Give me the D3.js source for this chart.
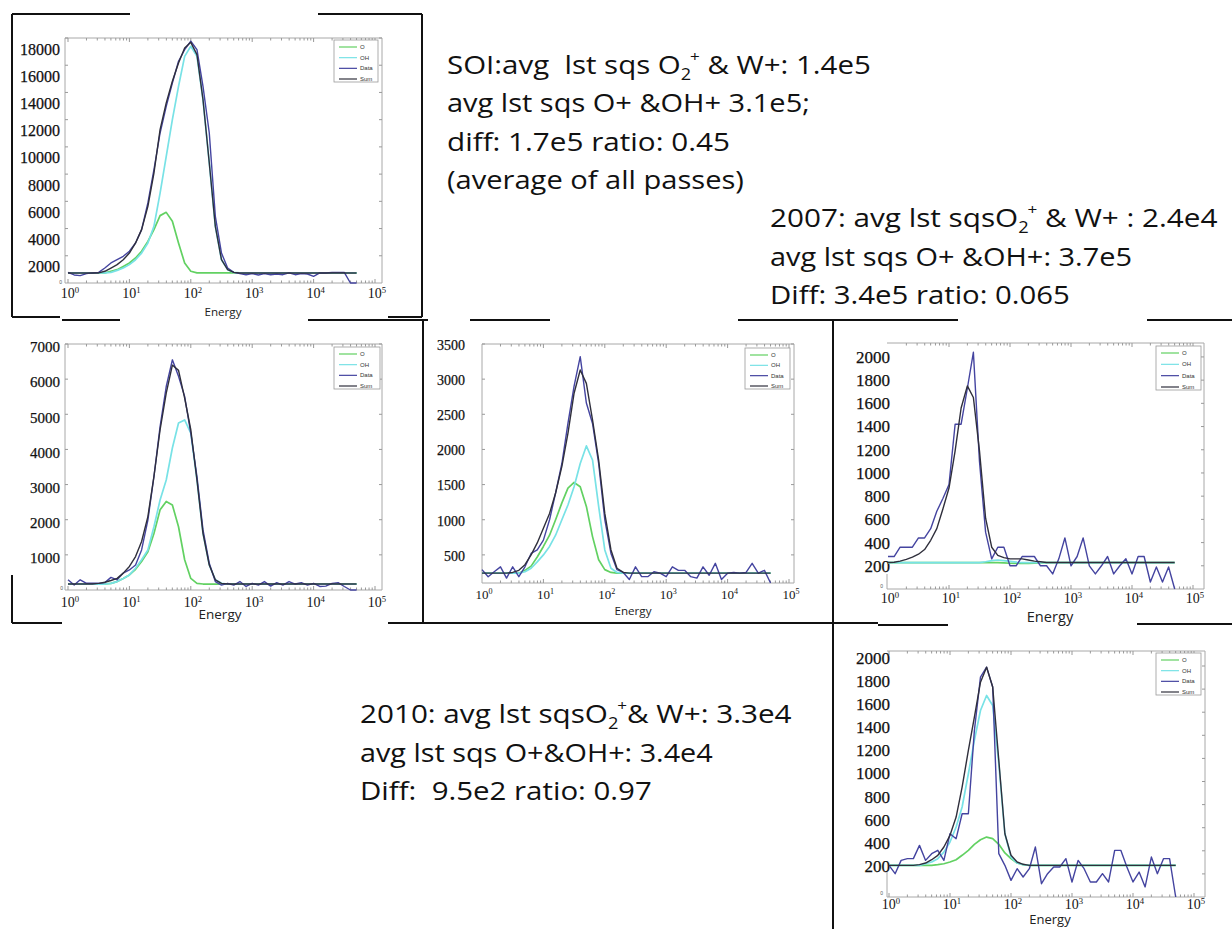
<!DOCTYPE html>
<html>
<head>
<meta charset="utf-8">
<script src="https://cdn.jsdelivr.net/npm/d3@7"></script>
<style>
  body { margin: 0; background: #fff; }
  svg { display: block; }
  text { white-space: pre; }
</style>
</head>
<body>
<svg id="chart" width="1232" height="929"></svg>
<script>
// energy bins shared by every panel (eV, 10 per decade)
const energy = [1, 1.26, 1.58, 2, 2.51, 3.16, 3.98, 5.01, 6.31, 7.94,
  10, 12.6, 15.8, 20, 25.1, 31.6, 39.8, 50.1, 63.1, 79.4,
  100, 126, 158, 200, 251, 316, 398, 501, 631, 794,
  1000, 1260, 1580, 2000, 2510, 3160, 3980, 5010, 6310, 7940,
  10000, 12600, 15800, 20000, 25100, 31600, 39800, 50100];

const seriesNames = ["O", "OH", "Data", "Sum"];
const xExponents = [0, 1, 2, 3, 4, 5];

// SOI (average of all passes)
const soiO = [740, 740, 740, 740, 740, 740, 740, 860, 980, 1220, 1470, 1840, 2330, 3060, 3920, 4950, 5190, 4530, 2940, 1470,
  860, 740, 740, 740, 740, 740, 740, 740, 740, 740, 740, 740, 740, 740, 740, 740, 740, 740, 740, 740,
  740, 740, 740, 740, 740, 740, 740, 740];
const soiOH = [740, 740, 740, 740, 740, 740, 740, 780, 930, 1100, 1350, 1710, 2200, 2940, 4160, 6610, 9310, 12000, 14450, 16650,
  17390, 16650, 13470, 8820, 4160, 1710, 980, 780, 740, 740, 740, 740, 740, 740, 740, 740, 740, 740, 740, 740,
  740, 740, 740, 740, 740, 740, 740, 740];
const soiData = [780, 590, 540, 690, 740, 780, 1100, 1470, 1710, 1960, 2330, 2940, 3920, 5880, 8330, 11020, 12980, 14690, 16290, 17140,
  17760, 17140, 14450, 11020, 4900, 2200, 1100, 780, 690, 610, 690, 590, 690, 610, 660, 610, 740, 610, 690, 660,
  490, 740, 740, 780, 780, 780, 0, 0];
const soiSum = [740, 740, 740, 740, 740, 740, 860, 1100, 1350, 1710, 2200, 2940, 3920, 5630, 8080, 11270, 13230, 14820, 16160, 17270,
  17680, 16780, 13470, 8820, 4160, 1710, 980, 780, 740, 740, 740, 740, 740, 740, 740, 740, 740, 740, 740, 740,
  740, 740, 740, 740, 740, 740, 740, 740];
const soiTicks = [2000, 4000, 6000, 8000, 10000, 12000, 14000, 16000, 18000];

// middle-left pass
const passAO = [170, 170, 170, 170, 170, 170, 170, 190, 240, 330, 430, 590, 810, 1090, 1610, 2280, 2520, 2420, 1800, 860,
  330, 190, 170, 170, 170, 170, 170, 170, 170, 170, 170, 170, 170, 170, 170, 170, 170, 170, 170, 170,
  170, 170, 170, 170, 170, 170, 170, 170];
const passAOH = [170, 170, 170, 170, 170, 170, 170, 190, 240, 330, 430, 620, 860, 1140, 1800, 2560, 3130, 4040, 4750, 4840,
  4460, 3130, 1610, 710, 290, 190, 170, 170, 170, 170, 170, 170, 170, 170, 170, 170, 170, 170, 170, 170,
  170, 170, 170, 170, 170, 170, 170, 170];
const passAData = [290, 140, 290, 190, 190, 190, 210, 360, 290, 480, 570, 710, 1140, 1990, 3230, 4650, 5790, 6550, 6080, 5510,
  4460, 3230, 1710, 760, 240, 140, 190, 140, 240, 100, 190, 140, 240, 110, 210, 140, 240, 170, 210, 140,
  190, 100, 110, 190, 210, 100, 0, 0];
const passASum = [170, 170, 170, 170, 170, 190, 220, 270, 330, 480, 670, 950, 1380, 2090, 3230, 4560, 5600, 6400, 6250, 5460,
  4560, 3130, 1610, 710, 290, 190, 170, 170, 170, 170, 170, 170, 170, 170, 170, 170, 170, 170, 170, 170,
  170, 170, 170, 170, 170, 170, 170, 170];
const passATicks = [1000, 2000, 3000, 4000, 5000, 6000, 7000];

// middle pass
const passBO = [240, 240, 240, 240, 240, 240, 240, 280, 340, 470, 620, 780, 1000, 1240, 1450, 1530, 1470, 1190, 760, 430,
  290, 250, 240, 240, 240, 240, 240, 240, 240, 240, 240, 240, 240, 240, 240, 240, 240, 240, 240, 240,
  240, 240, 240, 240, 240, 240, 240, 240];
const passBOH = [240, 240, 240, 240, 240, 240, 240, 260, 310, 400, 500, 620, 780, 1000, 1210, 1470, 1800, 2050, 1850, 1190,
  570, 310, 250, 240, 240, 240, 240, 240, 240, 240, 240, 240, 240, 240, 240, 240, 240, 240, 240, 240,
  240, 240, 240, 240, 240, 240, 240, 240];
const passBData = [290, 190, 260, 330, 170, 330, 190, 330, 520, 570, 710, 1000, 1380, 1800, 2370, 2900, 3320, 2660, 2370, 1800,
  1000, 520, 290, 250, 150, 330, 190, 190, 260, 240, 190, 330, 280, 280, 190, 170, 330, 210, 380, 150,
  240, 250, 240, 250, 380, 240, 280, 100];
const passBSum = [240, 240, 240, 240, 240, 250, 280, 360, 500, 670, 880, 1090, 1380, 1760, 2230, 2800, 3130, 2940, 2420, 1850,
  1090, 570, 310, 250, 240, 240, 240, 240, 240, 240, 240, 240, 240, 240, 240, 240, 240, 240, 240, 240,
  240, 240, 240, 240, 240, 240, 240, 240];
const passBTicks = [500, 1000, 1500, 2000, 2500, 3000, 3500];

// 2007
const y2007O = [228, 228, 228, 228, 228, 228, 228, 228, 228, 228, 228, 228, 228, 228, 228, 228, 228, 228, 228, 225,
  222, 220, 220, 220, 222, 225, 228, 228, 228, 228, 228, 228, 228, 228, 228, 228, 228, 228, 228, 228,
  228, 228, 228, 228, 228, 228, 228, 228];
const y2007OH = [228, 228, 228, 228, 228, 228, 228, 228, 228, 228, 228, 228, 228, 228, 228, 228, 235, 245, 250, 245,
  238, 232, 228, 228, 228, 228, 228, 228, 228, 228, 228, 228, 228, 228, 228, 228, 228, 228, 228, 228,
  228, 228, 228, 228, 228, 228, 228, 228];
const y2007Data = [280, 280, 360, 360, 360, 440, 440, 520, 670, 780, 900, 1420, 1420, 1730, 2040, 1100, 490, 260, 360, 360,
  200, 200, 280, 280, 280, 200, 200, 130, 260, 440, 200, 280, 440, 200, 130, 200, 280, 130, 200, 260,
  130, 280, 280, 60, 190, 60, 190, 0];
const y2007Sum = [228, 230, 240, 255, 275, 300, 340, 420, 520, 690, 870, 1190, 1560, 1750, 1650, 1190, 610, 360, 290, 270,
  260, 260, 260, 250, 240, 235, 228, 228, 228, 228, 228, 228, 228, 228, 228, 228, 228, 228, 228, 228,
  228, 228, 228, 228, 228, 228, 228, 228];
const y2007Ticks = [200, 400, 600, 800, 1000, 1200, 1400, 1600, 1800, 2000];

// 2010
const y2010O = [274, 274, 274, 274, 274, 274, 274, 274, 280, 288, 303, 323, 361, 404, 456, 496, 519, 505, 456, 381,
  332, 294, 280, 274, 274, 274, 274, 274, 274, 274, 274, 274, 274, 274, 274, 274, 274, 274, 274, 274,
  274, 274, 274, 274, 274, 274, 274, 274];
const y2010OH = [274, 274, 274, 274, 274, 274, 288, 303, 332, 389, 476, 606, 779, 1067, 1356, 1615, 1745, 1658, 1154, 548,
  346, 294, 280, 274, 274, 274, 274, 274, 274, 274, 274, 274, 274, 274, 274, 274, 274, 274, 274, 274,
  274, 274, 274, 274, 274, 274, 274, 274];
const y2010Data = [274, 202, 317, 332, 332, 447, 317, 375, 404, 317, 548, 505, 721, 721, 1442, 1904, 1990, 1818, 375, 274,
  144, 245, 173, 245, 433, 115, 202, 260, 260, 332, 130, 317, 245, 130, 130, 202, 130, 404, 404, 260,
  130, 216, 87, 346, 202, 332, 332, 0];
const y2010Sum = [274, 274, 274, 274, 274, 280, 294, 323, 361, 433, 534, 692, 952, 1269, 1558, 1860, 1990, 1818, 1183, 548,
  361, 303, 283, 274, 274, 274, 274, 274, 274, 274, 274, 274, 274, 274, 274, 274, 274, 274, 274, 274,
  274, 274, 274, 274, 274, 274, 274, 274];
const y2010Ticks = [200, 400, 600, 800, 1000, 1200, 1400, 1600, 1800, 2000];

// annotation lines: [text, style] segments
const soiNote = [
  [["SOI:avg  lst sqs O"], ["2", "sub"], ["+", "sup"], [" & W+: 1.4e5"]],
  [["avg lst sqs O+ &OH+ 3.1e5;"]],
  [["diff: 1.7e5 ratio: 0.45"]],
  [["(average of all passes)"]]
];
const note2007 = [
  [["2007: avg lst sqsO"], ["2", "sub"], ["+", "sup"], [" & W+ : 2.4e4"]],
  [["avg lst sqs O+ &OH+: 3.7e5"]],
  [["Diff: 3.4e5 ratio: 0.065"]]
];
const note2010 = [
  [["2010: avg lst sqsO"], ["2", "sub"], ["+", "sup"], ["& W+: 3.3e4"]],
  [["avg lst sqs O+&OH+: 3.4e4"]],
  [["Diff:  9.5e2 ratio: 0.97"]]
];

const colors = { O: "#62d162", OH: "#78e2e6", Data: "#4444a0", Sum: "#2f2f3c" };

const svg = d3.select("#chart");

// slide picture borders (partly cropped)
const borders = [
  [12, 14, 130, 14], [318, 14, 422, 14], [12, 14, 12, 317], [422, 14, 422, 317],
  [12, 317, 60, 317], [388, 317, 422, 317],
  [62, 320, 120, 320], [308, 320, 428, 320], [470, 320, 550, 320], [738, 320, 958, 320], [1147, 320, 1232, 320],
  [12, 575, 12, 623], [12, 623, 62, 623], [388, 623, 878, 623], [878, 625, 948, 625], [1137, 624, 1232, 624],
  [423, 320, 423, 623], [833, 320, 833, 929]
];
svg.append("g").selectAll("line").data(borders).join("line")
  .attr("x1", d => d[0]).attr("y1", d => d[1]).attr("x2", d => d[2]).attr("y2", d => d[3])
  .attr("stroke", "#111").attr("stroke-width", 2);

const panels = [
  { series: [soiO, soiOH, soiData, soiSum], ticks: soiTicks, yDomain: [0, 18000], yRange: [283, 38], xRange: [68, 375],
    frame: [65, 38, 382, 283], labelX: 60, labelDy: 11, labelSize: 16, xLabelY: 298, xLabelSize: 14,
    energy: [223, 316, 11.6], legend: [334, 40, 44, 42], zero: [62, 284] },
  { series: [passAO, passAOH, passAData, passASum], ticks: passATicks, yDomain: [0, 7000], yRange: [590, 344], xRange: [68, 375],
    frame: [65, 344, 382, 590], labelX: 60, labelDy: 3, labelSize: 15, xLabelY: 607, xLabelSize: 14,
    energy: [220, 619, 13.5], legend: [334, 347, 46, 42], zero: [63, 590] },
  { series: [passBO, passBOH, passBData, passBSum], ticks: passBTicks, yDomain: [100, 3500], yRange: [583, 344], xRange: [482, 789],
    frame: [482, 344, 794, 583], labelX: 465, labelDy: 1, labelSize: 14, xLabelY: 599, xLabelSize: 13,
    energy: [633, 615, 11.6], legend: [745, 348, 45, 41] },
  { series: [y2007O, y2007OH, y2007Data, y2007Sum], ticks: y2007Ticks, yDomain: [0, 2120], yRange: [589, 343], xRange: [888, 1193],
    frame: [887, 343, 1204, 589], leftTop: 574, labelX: 890, labelDy: 0, labelSize: 17, xLabelY: 603, xLabelSize: 14,
    energy: [1050, 622, 14.6], legend: [1156, 346, 45, 44], zero: [883, 588] },
  { series: [y2010O, y2010OH, y2010Data, y2010Sum], ticks: y2010Ticks, yDomain: [0, 2130], yRange: [897, 651], xRange: [889, 1194],
    frame: [887, 651, 1205, 897], leftTop: 872, labelX: 890, labelDy: -8, labelSize: 17, xLabelY: 909, xLabelSize: 14,
    energy: [1050, 924, 13], legend: [1156, 653, 45, 42], zero: [883, 895] }
];

// minor tick positions on the log axis
const minorTicks = [];
[1, 10, 100, 1000, 10000].forEach(dec => d3.range(1, 10).forEach(m => minorTicks.push(dec * m)));
minorTicks.push(100000);

panels.forEach(p => {
  const x = d3.scaleLog().domain([1, 1e5]).range(p.xRange);
  const y = d3.scaleLinear().domain(p.yDomain).range(p.yRange);
  const [fx0, fy0, fx1, fy1] = p.frame;
  const g = svg.append("g");

  // axes box
  g.append("path")
    .attr("d", `M${fx0},${fy0}H${fx1}V${fy1}H${fx0}`)
    .attr("fill", "none").attr("stroke", "#a8a8a8").attr("stroke-width", 1);
  g.append("line")
    .attr("x1", fx0).attr("x2", fx0).attr("y1", p.leftTop || fy0).attr("y2", fy1)
    .attr("stroke", "#a8a8a8").attr("stroke-width", 1);

  // log ticks top and bottom
  const mt = minorTicks.filter(v => x(v) > fx0 + 1 && x(v) < fx1 - 1);
  g.append("g").selectAll("line").data(mt).join("line")
    .attr("x1", d => x(d)).attr("x2", d => x(d))
    .attr("y1", fy1).attr("y2", d => fy1 - (Math.log10(d) % 1 === 0 ? 4 : 2.5))
    .attr("stroke", "#999");
  g.append("g").selectAll("line").data(mt).join("line")
    .attr("x1", d => x(d)).attr("x2", d => x(d))
    .attr("y1", fy0).attr("y2", d => fy0 + (Math.log10(d) % 1 === 0 ? 4 : 2.5))
    .attr("stroke", "#999");

  // y ticks on both sides
  g.append("g").selectAll("line").data(p.ticks).join("line")
    .attr("x1", fx1).attr("x2", fx1 - 3).attr("y1", d => y(d)).attr("y2", d => y(d))
    .attr("stroke", "#999");
  if (!p.leftTop) {
    g.append("g").selectAll("line").data(p.ticks).join("line")
      .attr("x1", fx0).attr("x2", fx0 + 3).attr("y1", d => y(d)).attr("y2", d => y(d))
      .attr("stroke", "#999");
  }

  // y tick labels
  g.append("g").selectAll("text").data(p.ticks).join("text")
    .attr("x", p.labelX).attr("y", d => y(d) + p.labelDy).attr("dy", "0.35em")
    .attr("text-anchor", "end")
    .style("font-family", "'Liberation Serif', 'DejaVu Serif', serif")
    .style("font-size", p.labelSize + "px").style("fill", "#111")
    .style("stroke", "#111").style("stroke-width", 0.25)
    .text(d => d3.format("d")(d));
  if (p.zero) {
    g.append("text").attr("x", p.zero[0]).attr("y", p.zero[1])
      .attr("text-anchor", "end").style("font-family", "Liberation Sans, sans-serif")
      .style("font-size", "5px").style("fill", "#555").text("0");
  }

  // x tick labels 10^k
  const xl = g.append("g").selectAll("text").data(xExponents).join("text")
    .attr("x", d => x(Math.pow(10, d)) + 2).attr("y", p.xLabelY)
    .attr("text-anchor", "middle")
    .style("font-family", "'Liberation Serif', 'DejaVu Serif', serif")
    .style("font-size", p.xLabelSize + "px").style("fill", "#151515");
  xl.append("tspan").text("10");
  xl.append("tspan").attr("dy", -p.xLabelSize * 0.38).style("font-size", (p.xLabelSize * 0.62) + "px").text(d => d);

  g.append("text")
    .attr("x", p.energy[0]).attr("y", p.energy[1]).attr("text-anchor", "middle")
    .style("font-family", "'Open Sans', sans-serif").style("font-size", p.energy[2] + "px")
    .style("fill", "#222").text("Energy");

  // curves
  const line = d3.line().x((d, i) => x(energy[i])).y(d => y(Math.max(d, p.yDomain[0])));
  seriesNames.forEach((name, k) => {
    g.append("path").datum(p.series[k])
      .attr("d", line)
      .attr("fill", "none")
      .attr("stroke", colors[name])
      .attr("stroke-width", name === "O" || name === "OH" ? 1.7 : 1.4)
      .attr("stroke-linejoin", "round");
  });

  // legend
  const [lx, ly, lw, lh] = p.legend;
  const lg = g.append("g");
  lg.append("rect").attr("x", lx).attr("y", ly).attr("width", lw).attr("height", lh)
    .attr("fill", "#fff").attr("stroke", "#9a9a9a").attr("stroke-width", 0.8);
  seriesNames.forEach((name, k) => {
    const ry = ly + 7 + k * (lh - 10) / 3;
    lg.append("line").attr("x1", lx + 5).attr("x2", lx + 23).attr("y1", ry).attr("y2", ry)
      .attr("stroke", colors[name]).attr("stroke-width", 1.2);
    lg.append("text").attr("x", lx + 26).attr("y", ry).attr("dy", "0.35em")
      .style("font-family", "Liberation Sans, sans-serif").style("font-size", "6px")
      .style("fill", "#333").text(name);
  });
});

// annotation text blocks
function drawNote(lines, x0, baselines, widths) {
  lines.forEach((segs, i) => {
    const g = svg.append("g");
    const t = g.append("text")
      .style("font-family", "'Open Sans', 'Liberation Sans', sans-serif")
      .style("font-size", "26px").style("fill", "#111");
    let shift = 0;
    segs.forEach(([str, kind]) => {
      const ts = t.append("tspan").text(str);
      if (kind === "sub") { ts.attr("dy", 6 - shift).style("font-size", "16px"); shift = 6; }
      else if (kind === "sup") { ts.attr("dy", -12 - shift).attr("dx", -1).style("font-size", "15px"); shift = -12; }
      else if (shift !== 0) { ts.attr("dy", -shift); shift = 0; }
    });
    const w = t.node().getBBox().width;
    g.attr("transform", `translate(${x0},${baselines[i]}) scale(${widths[i] / w},1)`);
  });
}
drawNote(soiNote, 447, [74, 112, 151, 189], [424, 363, 283, 297]);
drawNote(note2007, 770, [227, 266, 304], [448, 362, 300]);
drawNote(note2010, 360, [723, 762, 800], [432, 353, 292]);
</script>
</body>
</html>
